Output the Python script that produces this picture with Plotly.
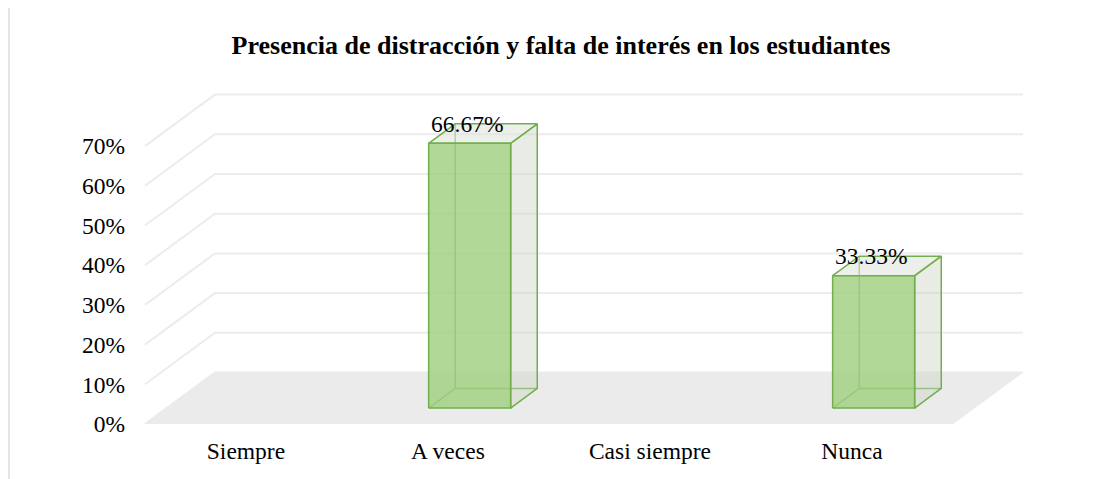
import plotly.graph_objects as go

# ---- data ----
categories = ["Siempre", "A veces", "Casi siempre", "Nunca"]
values = [0.0, 66.67, 0.0, 33.33]
y_ticks = [0, 10, 20, 30, 40, 50, 60, 70]
title_text = "Presencia de distracción y falta de interés en los estudiantes"

# ---- pseudo-3D projection (depth d in 0..1) ----
DX = 70 / 202.0      # category units per unit depth
DY = 51.5 / 3.97     # percent units per unit depth
HW = 0.203           # bar half width (category units)
D0, D1 = 0.31, 0.69  # bar front / back depth

def P(x, y, d):
    return x + d * DX, y + d * DY

def poly(pts):
    xs, ys = zip(*[P(*p) for p in pts])
    return list(xs), list(ys)

FONT = "Liberation Serif, Times New Roman, serif"
EDGE = "#72ae4c"

fig = go.Figure()

left, right = -0.5, len(categories) - 0.5

# gridlines on left wall + back wall
for v in y_ticks:
    xs, ys = poly([(left, v, 0), (left, v, 1), (right, v, 1)])
    fig.add_trace(go.Scatter(x=xs, y=ys, mode="lines",
                             line=dict(color="#ececec", width=2),
                             hoverinfo="skip", showlegend=False))

# floor
xs, ys = poly([(left, 0, 0), (right, 0, 0), (right, 0, 1), (left, 0, 1), (left, 0, 0)])
fig.add_trace(go.Scatter(x=xs, y=ys, mode="lines", fill="toself",
                         fillcolor="#ebebeb", line=dict(color="#ebebeb", width=0.5),
                         hoverinfo="skip", showlegend=False))

# bars
for i, v in enumerate(values):
    if v <= 0:
        continue
    c = i
    a, b = c - HW, c + HW
    # hidden edges
    xs, ys = poly([(a, 0, D0), (a, 0, D1), (b, 0, D1)])
    fig.add_trace(go.Scatter(x=xs, y=ys, mode="lines", line=dict(color=EDGE, width=1.5),
                             hoverinfo="skip", showlegend=False))
    xs, ys = poly([(a, 0, D1), (a, v, D1)])
    fig.add_trace(go.Scatter(x=xs, y=ys, mode="lines", line=dict(color=EDGE, width=1.5),
                             hoverinfo="skip", showlegend=False))
    # right face
    xs, ys = poly([(b, 0, D0), (b, 0, D1), (b, v, D1), (b, v, D0), (b, 0, D0)])
    fig.add_trace(go.Scatter(x=xs, y=ys, mode="lines", fill="toself",
                             fillcolor="rgba(205,212,198,0.45)",
                             line=dict(color=EDGE, width=1.5),
                             hoverinfo="skip", showlegend=False))
    # top face
    xs, ys = poly([(a, v, D0), (b, v, D0), (b, v, D1), (a, v, D1), (a, v, D0)])
    fig.add_trace(go.Scatter(x=xs, y=ys, mode="lines", fill="toself",
                             fillcolor="rgba(225,230,220,0.6)",
                             line=dict(color=EDGE, width=1.5),
                             hoverinfo="skip", showlegend=False))
    # front face
    xs, ys = poly([(a, 0, D0), (b, 0, D0), (b, v, D0), (a, v, D0), (a, 0, D0)])
    fig.add_trace(go.Scatter(x=xs, y=ys, mode="lines", fill="toself",
                             fillcolor="rgba(160,207,128,0.82)",
                             line=dict(color=EDGE, width=1.5),
                             hoverinfo="skip", showlegend=False))
    fig.add_annotation(x=c - 0.015 + D0 * DX, y=v + D1 * DY, text=f"{v:.2f}%",
                       showarrow=False, yanchor="middle", xanchor="center",
                       font=dict(family=FONT, size=23.5, color="#000000"))

# chart border
fig.add_shape(type="rect", xref="paper", yref="paper",
              x0=-0.133, x1=1.3, y0=-0.5, y1=1.212,
              line=dict(color="#d9d9d9", width=1.3), fillcolor="rgba(0,0,0,0)")

# page body has an 8px margin: figure is sized to fill the rest of the window
W, H = 1098, 471
fig.update_layout(
    width=W, height=H,
    margin=dict(l=122, r=66, t=72, b=55),
    paper_bgcolor="white", plot_bgcolor="white",
    title=dict(text=title_text, x=553 / W, xanchor="center",
               y=1 - 37 / H, yanchor="middle", xref="container", yref="container",
               font=dict(family=FONT, size=26, color="#000000", weight="bold")),
    xaxis=dict(range=[-0.574, 3.931], tickvals=list(range(len(categories))),
               ticktext=categories, showgrid=False, zeroline=False, showline=False,
               ticks="", ticklabelstandoff=10,
               tickfont=dict(family=FONT, size=23.5, color="#000000")),
    yaxis=dict(range=[0, (424 - 80) / 3.97], tickvals=y_ticks,
               ticktext=[f"{t}%" for t in y_ticks], showgrid=False, zeroline=False,
               showline=False, ticks="", ticklabelstandoff=4,
               tickfont=dict(family=FONT, size=23.5, color="#000000")),
)

fig.write_html("out.html")
